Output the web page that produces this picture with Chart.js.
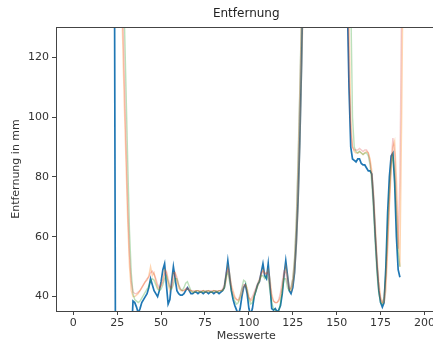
<!DOCTYPE html>
<html>
<head>
<meta charset="utf-8">
<script src="https://cdn.jsdelivr.net/npm/chart.js@4.4.1/dist/chart.umd.min.js"></script>
<style>
  html, body { margin: 0; padding: 0; background: #fff; overflow: hidden; }
  #wrap { position: absolute; left: 0; top: 0; width: 437px; height: 342px; }
</style>
</head>
<body>
<div id="wrap"><canvas id="chart"></canvas></div>
<script>
// Values. 250 / 25 stand for readings outside the visible range.
const rohwerte = [
  250, 250, 250, 250, 250, 250, 250, 250, 250, 250, 250, 250, 250, 250, 250, 250, 250, 250, 250, 250, 250, 250, 250, 250,
  25, 25, 25, 25, 25, 25, 25, 25, 25, 25,
  38.5, 38, 36.5, 34.5, 36, 38, 39, 40, 41, 43, 46, 44, 42, 41, 40, 42, 45, 49, 51, 44,
  37.5, 39, 45, 50, 46, 42, 41, 40.5, 40.5, 41, 42, 43, 42, 41, 41, 41.5, 41.5, 41, 41.5, 41.5,
  41, 41.5, 41.5, 41, 41.5, 41.5, 41, 41.5, 41.5, 41, 41.5, 42, 43, 47, 52, 47, 42, 39, 37, 35.5,
  34, 36, 40, 43, 44, 41, 36, 34, 36, 40, 42, 44, 45, 48, 51, 47, 46, 51, 44, 36,
  35.5, 36, 35, 35.5, 37, 41, 47, 52, 47, 42, 41, 43, 48, 58, 72, 92, 118, 150,
  250, 250, 250, 250, 250, 250, 250, 250, 250, 250, 250, 250, 250, 250, 250, 250, 250, 250, 250, 250, 250, 250, 250, 250,
  140, 110, 90, 86, 85.5, 85, 86, 86, 84.5, 84, 84, 83, 82, 82, 81, 72, 60, 50, 42, 38,
  36.5, 38, 50, 68, 80, 87, 88, 78, 60, 49, 46.5
];
const filterA = [
  250, 250, 250, 250, 250, 250, 250, 250, 250, 250, 250, 250, 250, 250, 250, 250, 250, 250, 250, 250, 250, 250, 250, 250, 250, 250, 250,
  160, 128, 105, 85, 65, 50, 42,
  40, 40, 40.5, 41, 42, 43, 44, 45, 45.5, 47, 50, 47, 48, 45, 43, 42.5, 44, 46, 49, 48,
  44, 42, 44, 48, 48, 45, 43, 42, 42, 42, 42.5, 42.5, 42, 42, 41.5, 41.5, 42, 42, 41.5, 41.5,
  42, 41.5, 41.5, 42, 41.5, 41.5, 42, 41.5, 41.5, 42, 42, 42, 43, 45, 50, 48, 44, 42, 40, 39,
  38.5, 39.5, 41, 43, 44, 43, 40, 38.5, 39, 40.5, 42, 43.5, 45, 47, 49, 48, 47.5, 49, 46, 41,
  38.5, 38, 38, 38.5, 40, 43, 47, 50, 47, 43, 42, 44, 48, 56, 70, 90, 115, 140,
  250, 250, 250, 250, 250, 250, 250, 250, 250, 250, 250, 250, 250, 250, 250, 250, 250, 250, 250, 250, 250, 250, 250, 250,
  180, 135, 100, 90, 88.5, 88, 88, 88.5, 88, 87.5, 88, 88.5, 88, 86, 82, 75, 64, 53, 45, 40,
  38, 38, 42, 55, 70, 82, 90, 92, 80, 62, 50, 100, 160, 250
];
const filterB = [
  250, 250, 250, 250, 250, 250, 250, 250, 250, 250, 250, 250, 250, 250, 250, 250, 250, 250, 250, 250, 250, 250, 250, 250, 250, 250, 250, 250, 250,
  135, 110, 85, 62, 48,
  41, 39, 38.5, 38, 38.5, 39.5, 40.5, 41.5, 42.5, 43.5, 45, 46, 45.5, 44, 42.5, 42, 42.5, 44, 46, 47,
  45, 43, 42.5, 44, 46, 46, 44, 42.5, 42, 43, 44.5, 45, 43.5, 42, 41.5, 41.5, 42, 42, 41.5, 41.5,
  42, 41.5, 42, 42, 41.5, 41.5, 42, 42, 41.5, 42, 42, 42, 43, 47, 48, 45, 42, 40, 38.5,
  37.5, 38, 40, 43, 45.5, 45, 42, 39, 37.5, 38, 40, 42, 44, 45.5, 47, 47, 46, 47, 46, 42,
  38, 36, 35.5, 34.5, 35, 38, 42, 46, 46, 43, 42, 43, 46, 53, 66, 86, 110, 136, 170,
  250, 250, 250, 250, 250, 250, 250, 250, 250, 250, 250, 250, 250, 250, 250, 250, 250, 250, 250, 250, 250, 250, 250, 250, 250, 250,
  140, 100, 90, 88.5, 88, 88.5, 88, 87.5, 88, 88, 87, 84, 78, 68, 57, 47, 41,
  38, 37.5, 40, 48, 62, 75, 84, 87, 82, 68, 55, 50
];
const filterC = [
  250, 250, 250, 250, 250, 250, 250, 250, 250, 250, 250, 250, 250, 250, 250, 250, 250, 250, 250, 250, 250, 250, 250, 250, 250, 250, 250, 250,
  140, 115, 92, 70, 54, 45,
  41.5, 41, 41, 41.5, 42, 43, 44, 45, 46, 46.5, 48, 48.5, 47.5, 46, 44, 43, 43.5, 45, 47.5, 48.5,
  46, 43.5, 43, 45.5, 48, 46.5, 44, 42.5, 42, 42, 42.5, 43, 42.5, 42, 42, 42, 42, 42, 42, 42,
  42, 42, 42, 42, 42, 42, 42, 42, 42, 42, 42, 42.5, 44, 48, 49, 46, 43, 41, 39.5,
  39, 39, 40.5, 42.5, 44, 44, 41.5, 39.5, 39, 40, 41.5, 43, 44.5, 46, 48, 48.5, 47.5, 48, 47.5, 43.5,
  40, 38.5, 38, 38, 39, 41.5, 45, 48.5, 48, 44.5, 42.5, 43, 46, 52, 64, 84, 108, 134, 165,
  250, 250, 250, 250, 250, 250, 250, 250, 250, 250, 250, 250, 250, 250, 250, 250, 250, 250, 250, 250, 250, 250, 250, 250,
  150, 115, 95, 90, 89, 89, 89, 89.5, 89, 88.5, 89, 89, 88, 85, 80, 71, 60, 50, 43,
  39, 38, 39.5, 46, 58, 72, 85, 93, 88, 72, 56, 80, 140, 250
];
const xTicks = [0, 25, 50, 75, 100, 125, 150, 175, 200];
const yTicks = [40, 60, 80, 100, 120];

const toPoints = (values) => values.map((y, i) => ({ x: i, y }));

const frameAndTitle = {
  id: 'frameAndTitle',
  afterDraw: (chart) => {
    const { ctx, chartArea } = chart;
    ctx.save();
    ctx.strokeStyle = '#444';
    ctx.lineWidth = 1;
    ctx.beginPath();
    ctx.moveTo(chartArea.left, chartArea.top + 0.5);
    ctx.lineTo(chartArea.right, chartArea.top + 0.5);
    ctx.stroke();
    ctx.fillStyle = '#222';
    ctx.font = '12px "DejaVu Sans"';
    ctx.textAlign = 'center';
    ctx.textBaseline = 'middle';
    ctx.fillText('Entfernung', (chartArea.left + chartArea.right) / 2, 14);
    ctx.restore();
  },
};

const line = (data, color, width, order) => ({
  data: toPoints(data),
  borderColor: color,
  backgroundColor: color,
  borderWidth: width,
  pointRadius: 0,
  tension: 0,
  order,
});

new Chart(document.getElementById('chart'), {
  type: 'line',
  data: {
    datasets: [
      line(rohwerte, '#1f77b4', 1.7, 4),
      line(filterA, 'rgba(255, 127, 14, 0.32)', 1.4, 3),
      line(filterB, 'rgba(44, 160, 44, 0.32)', 1.4, 2),
      line(filterC, 'rgba(214, 39, 40, 0.25)', 1.4, 1),
    ],
  },
  options: {
    responsive: true,
    maintainAspectRatio: false,
    animation: false,
    devicePixelRatio: 1,
    layout: { padding: { top: 27, left: 0, right: 0, bottom: 0 } },
    plugins: { legend: { display: false }, tooltip: { enabled: false } },
    scales: {
      x: {
        type: 'linear',
        min: -9.85,
        max: 206.85,
        afterBuildTicks: (scale) => { scale.ticks = xTicks.map((value) => ({ value })); },
        afterFit: (scale) => { scale.height = 31; },
        grid: { drawOnChartArea: false, tickLength: 4, color: '#444' },
        border: { color: '#444', width: 1 },
        ticks: { color: '#333', padding: 2, maxRotation: 0, font: { family: 'DejaVu Sans', size: 11 } },
        title: { display: true, text: 'Messwerte', color: '#333', padding: 0, font: { family: 'DejaVu Sans', size: 11, lineHeight: 1 } },
      },
      y: {
        min: 35.2,
        max: 130.1,
        afterBuildTicks: (scale) => { scale.ticks = yTicks.map((value) => ({ value })); },
        afterFit: (scale) => { scale.width = 56; },
        grid: { drawOnChartArea: false, tickLength: 4, color: '#444' },
        border: { color: '#444', width: 1 },
        ticks: { color: '#333', padding: 3, font: { family: 'DejaVu Sans', size: 11 } },
        title: { display: true, text: 'Entfernung in mm', color: '#333', padding: { top: 11, bottom: 0 }, font: { family: 'DejaVu Sans', size: 11, lineHeight: 1 } },
      },
    },
  },
  plugins: [frameAndTitle],
});
</script>
</body>
</html>
